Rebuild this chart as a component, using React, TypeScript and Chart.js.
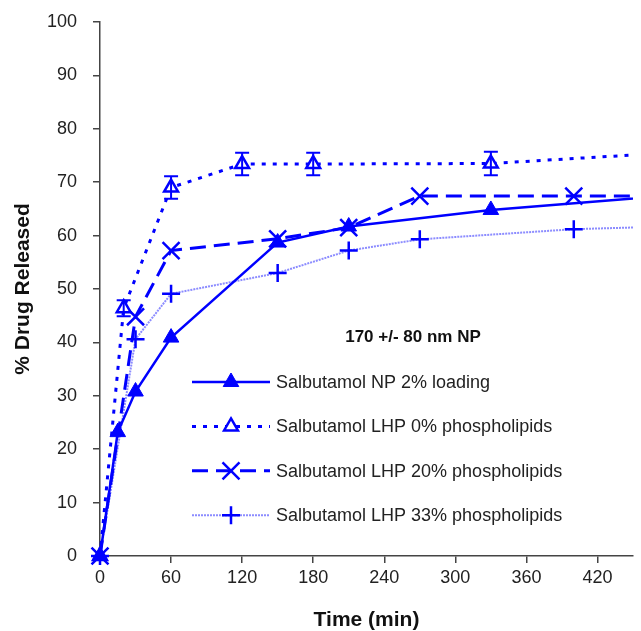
import React, { useEffect, useRef } from "react";
import { Chart, registerables } from "chart.js";
import { drawPoint } from "chart.js/helpers";

Chart.register(...registerables);

const FONT = "'Liberation Sans', Arial, Helvetica, sans-serif";
const BLUE = "#0000ff";

// Time points (min) and % drug released for each formulation
const timeNP = [0, 15, 30, 60, 150, 210, 330, 480];
const releaseNP = [0, 23.2, 30.8, 40.9, 58.7, 61.7, 64.8, 67.5];

const timeLHP0 = [0, 20, 60, 120, 180, 330, 480];
const releaseLHP0 = [0, 46.4, 69.0, 73.4, 73.4, 73.5, 75.5];
const errLHP0 = [0, 1.5, 2.1, 2.1, 2.1, 2.2, 0];

const timeLHP20 = [0, 30, 60, 150, 210, 270, 400, 480];
const releaseLHP20 = [0, 44.8, 57.2, 59.4, 61.5, 67.4, 67.4, 67.4];

const timeLHP33 = [0, 30, 60, 150, 210, 270, 400, 480];
const releaseLHP33 = [0, 40.6, 49.1, 53.0, 57.2, 59.3, 61.2, 61.7];

const seriesLabels = [
  "Salbutamol NP 2% loading",
  "Salbutamol LHP 0% phospholipids",
  "Salbutamol LHP 20% phospholipids",
  "Salbutamol LHP 33% phospholipids",
];

const xTickStep = 60;
const yTickStep = 10;
const annotationText = "170 +/- 80 nm NP";

const toPoints = (xs: number[], ys: number[]) => xs.map((x, i) => ({ x, y: ys[i] }));

const errorBarPlugin = {
  id: "errorBars",
  afterDatasetsDraw(chart: any) {
    const { ctx, chartArea, scales } = chart;
    const xs = scales.x;
    const ys = scales.y;
    ctx.save();
    ctx.beginPath();
    ctx.rect(chartArea.left - 15, chartArea.top - 15, chartArea.right - chartArea.left + 15, chartArea.bottom - chartArea.top + 30);
    ctx.clip();
    ctx.strokeStyle = BLUE;
    ctx.lineWidth = 2;
    timeLHP0.forEach((t, i) => {
      const e = errLHP0[i];
      if (!e) return;
      const x = xs.getPixelForValue(t);
      const y1 = ys.getPixelForValue(releaseLHP0[i] + e);
      const y2 = ys.getPixelForValue(releaseLHP0[i] - e);
      ctx.beginPath();
      ctx.moveTo(x, y1);
      ctx.lineTo(x, y2);
      ctx.moveTo(x - 7, y1);
      ctx.lineTo(x + 7, y1);
      ctx.moveTo(x - 7, y2);
      ctx.lineTo(x + 7, y2);
      ctx.stroke();
    });
    ctx.restore();
  },
};

const legendPlugin = {
  id: "customLegend",
  afterDraw(chart: any) {
    const { ctx } = chart;
    ctx.save();
    ctx.font = `bold 17px ${FONT}`;
    ctx.fillStyle = "#111";
    ctx.textAlign = "center";
    ctx.textBaseline = "middle";
    ctx.fillText(annotationText, 413, 337);

    const ys0 = 382;
    const gap = 44.4;
    chart.data.datasets.forEach((ds: any, i: number) => {
      const y = ys0 + gap * i;
      ctx.save();
      ctx.strokeStyle = ds.borderColor;
      ctx.lineWidth = ds.borderWidth;
      ctx.setLineDash(ds.borderDash || []);
      ctx.beginPath();
      ctx.moveTo(192, y);
      ctx.lineTo(270, y);
      ctx.stroke();
      ctx.restore();

      ctx.save();
      ctx.setLineDash([]);
      ctx.fillStyle = ds.pointBackgroundColor;
      ctx.strokeStyle = ds.pointBorderColor;
      ctx.lineWidth = ds.pointBorderWidth;
      drawPoint(ctx, { pointStyle: ds.pointStyle, radius: ds.pointRadius, rotation: 0, borderWidth: ds.pointBorderWidth } as any, 231, y);
      ctx.restore();

      ctx.font = `18px ${FONT}`;
      ctx.fillStyle = "#222";
      ctx.textAlign = "left";
      ctx.textBaseline = "middle";
      ctx.fillText(ds.label, 276, y + 1);
    });
    ctx.restore();
  },
};

export default function App() {
  const ref = useRef<HTMLCanvasElement | null>(null);

  useEffect(() => {
    if (!ref.current) return;
    const clip = { left: 15, top: 15, right: 0, bottom: 15 };
    const chart = new Chart(ref.current, {
      type: "line",
      data: {
        datasets: [
          {
            label: seriesLabels[0],
            data: toPoints(timeNP, releaseNP),
            borderColor: BLUE,
            borderWidth: 2.5,
            pointStyle: "triangle",
            pointRadius: 9,
            pointBackgroundColor: BLUE,
            pointBorderColor: BLUE,
            pointBorderWidth: 1,
            clip,
          } as any,
          {
            label: seriesLabels[1],
            data: toPoints(timeLHP0, releaseLHP0),
            borderColor: BLUE,
            borderWidth: 3,
            borderDash: [4, 7],
            pointStyle: "triangle",
            pointRadius: 8,
            pointBackgroundColor: "#ffffff",
            pointBorderColor: BLUE,
            pointBorderWidth: 2.5,
            clip,
          } as any,
          {
            label: seriesLabels[2],
            data: toPoints(timeLHP20, releaseLHP20),
            borderColor: BLUE,
            borderWidth: 3,
            borderDash: [16, 8],
            pointStyle: "crossRot",
            pointRadius: 12,
            pointBackgroundColor: BLUE,
            pointBorderColor: BLUE,
            pointBorderWidth: 2.5,
            clip,
          } as any,
          {
            label: seriesLabels[3],
            data: toPoints(timeLHP33, releaseLHP33),
            borderColor: "#8c8cff",
            borderWidth: 2,
            borderDash: [2, 1],
            pointStyle: "cross",
            pointRadius: 9,
            pointBackgroundColor: BLUE,
            pointBorderColor: BLUE,
            pointBorderWidth: 2.5,
            clip,
          } as any,
        ],
      },
      options: {
        responsive: false,
        animation: false,
        events: [],
        layout: { autoPadding: false, padding: { top: 22, right: 8, left: 0, bottom: 0 } },
        plugins: { legend: { display: false }, tooltip: { enabled: false } },
        elements: { line: { tension: 0 } },
        scales: {
          x: {
            type: "linear",
            min: 0,
            max: 450,
            afterFit: (s: any) => {
              s.height = 75;
              s.paddingLeft = 0;
              s.paddingRight = 0;
              s.paddingTop = 0;
              s.paddingBottom = 0;
            },
            afterBuildTicks: (s: any) => {
              s.ticks = s.ticks.filter((t: any) => t.value % xTickStep === 0);
            },
            ticks: { stepSize: xTickStep, includeBounds: false, font: { size: 18, family: FONT }, color: "#222", padding: 4, maxRotation: 0 } as any,
            grid: { display: true, drawOnChartArea: false, drawTicks: true, tickLength: 7, color: "#444", lineWidth: 1.5 },
            border: { display: true, color: "#444", width: 1.5 },
            title: { display: true, text: "Time (min)", font: { size: 21, weight: "bold", family: FONT, lineHeight: 1 }, color: "#111", padding: { top: 0, bottom: 0 } },
          },
          y: {
            type: "linear",
            min: 0,
            max: 100,
            afterFit: (s: any) => {
              s.width = 100;
              s.paddingLeft = 0;
              s.paddingRight = 0;
              s.paddingTop = 0;
              s.paddingBottom = 0;
            },
            ticks: { stepSize: yTickStep, font: { size: 18, family: FONT }, color: "#222", padding: 16 },
            grid: { display: true, drawOnChartArea: false, drawTicks: true, tickLength: 7, color: "#444", lineWidth: 1.5 },
            border: { display: true, color: "#444", width: 1.5 },
            title: { display: true, text: "% Drug Released", font: { size: 21, weight: "bold", family: FONT, lineHeight: 1 }, color: "#111", padding: { top: 13, bottom: 0 } },
          },
        },
      } as any,
      plugins: [errorBarPlugin, legendPlugin],
    });
    return () => chart.destroy();
  }, []);

  return (
    <div style={{ position: "absolute", left: 0, top: 0, width: 641, height: 631, background: "#fff" }}>
      <canvas ref={ref} width={641} height={631} style={{ display: "block" }} />
    </div>
  );
}
